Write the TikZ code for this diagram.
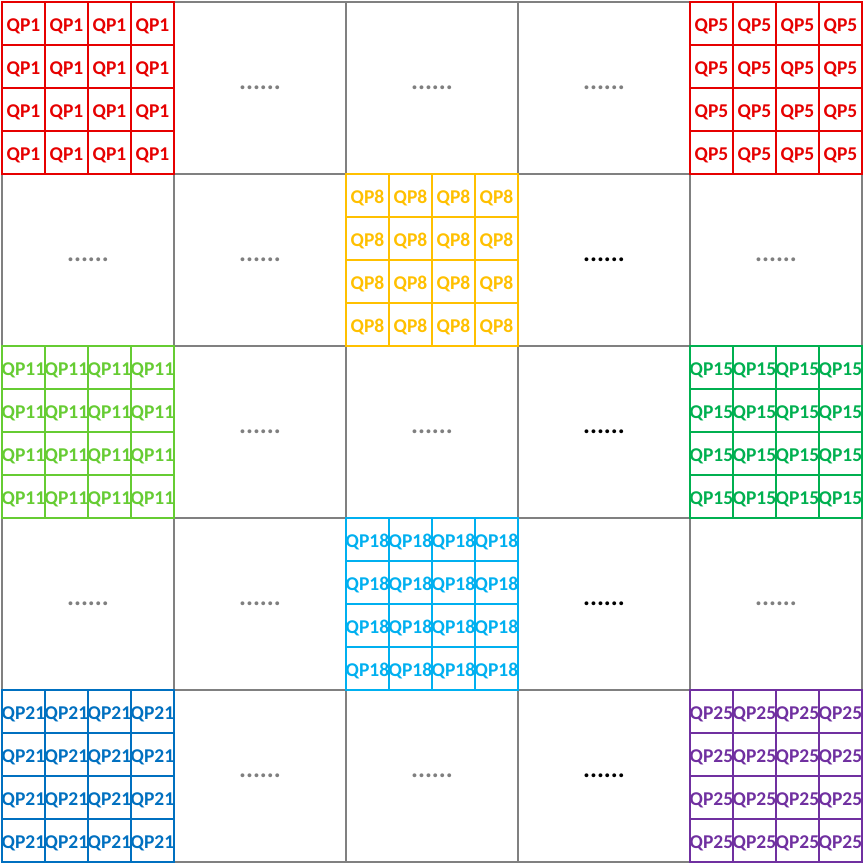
\documentclass[tikz,border=0pt]{standalone}
\usepackage{fontspec}
\setmainfont{Carlito}
\definecolor{gridgray}{RGB}{128,128,128}
\definecolor{dotgray}{RGB}{127,127,127}
\definecolor{qpred}{RGB}{230,0,0}
\definecolor{qpyellow}{RGB}{255,192,0}
\definecolor{qplight}{RGB}{102,204,51}
\definecolor{qpgreen}{RGB}{0,176,80}
\definecolor{qpcyan}{RGB}{0,176,240}
\definecolor{qpblue}{RGB}{0,112,192}
\definecolor{qppurple}{RGB}{112,48,160}
\tikzset{
  gridline/.style={draw=gridgray, line width=2pt},
  subcell/.style={draw, line width=2pt, minimum size=43pt, inner sep=0pt, outer sep=0pt,
    text height=15.5pt, text depth=0pt,
    font=\fontsize{19.5}{21}\selectfont\bfseries},
  dotsgray/.style={text=dotgray, inner sep=0pt, font=\fontsize{26}{28}\selectfont\bfseries},
  dotsblack/.style={text=black, inner sep=0pt, font=\fontsize{26}{28}\selectfont\bfseries},
}
\newcommand\qpblock[4]{%
  \foreach \a in {0,...,3}{
    \foreach \b in {0,...,3}{
      \node[subcell, draw=#3, text=#3] (q#4-\a-\b) at ({2+172*#1+43*\a+21.5},{2+172*#2+43*\b+21.5}) {#4};
    }
  }
}
\begin{document}
\begin{tikzpicture}[x=1pt,y=-1pt]
\useasboundingbox[fill=white] (0,0) rectangle (865,865);
% gray grid
\foreach \k in {0,...,5}{
  \draw[gridline] ({2+172*\k},2) -- ({2+172*\k},862);
  \draw[gridline] (2,{2+172*\k}) -- (862,{2+172*\k});
}
% dots (col,row)
\foreach \c/\r/\s in {1/0/dotsgray,2/0/dotsgray,3/0/dotsgray,
  0/1/dotsgray,1/1/dotsgray,3/1/dotsblack,4/1/dotsgray,
  1/2/dotsgray,2/2/dotsgray,3/2/dotsblack,
  0/3/dotsgray,1/3/dotsgray,3/3/dotsblack,4/3/dotsgray,
  1/4/dotsgray,2/4/dotsgray,3/4/dotsblack}{
  \node[\s] (d\c-\r) at ({2+172*\c+86},{2+172*\r+86}) {......};
}
% coloured blocks
\qpblock{0}{0}{qpred}{QP1}
\qpblock{4}{0}{qpred}{QP5}
\qpblock{2}{1}{qpyellow}{QP8}
\qpblock{0}{2}{qplight}{QP11}
\qpblock{4}{2}{qpgreen}{QP15}
\qpblock{2}{3}{qpcyan}{QP18}
\qpblock{0}{4}{qpblue}{QP21}
\qpblock{4}{4}{qppurple}{QP25}
\end{tikzpicture}
\end{document}
